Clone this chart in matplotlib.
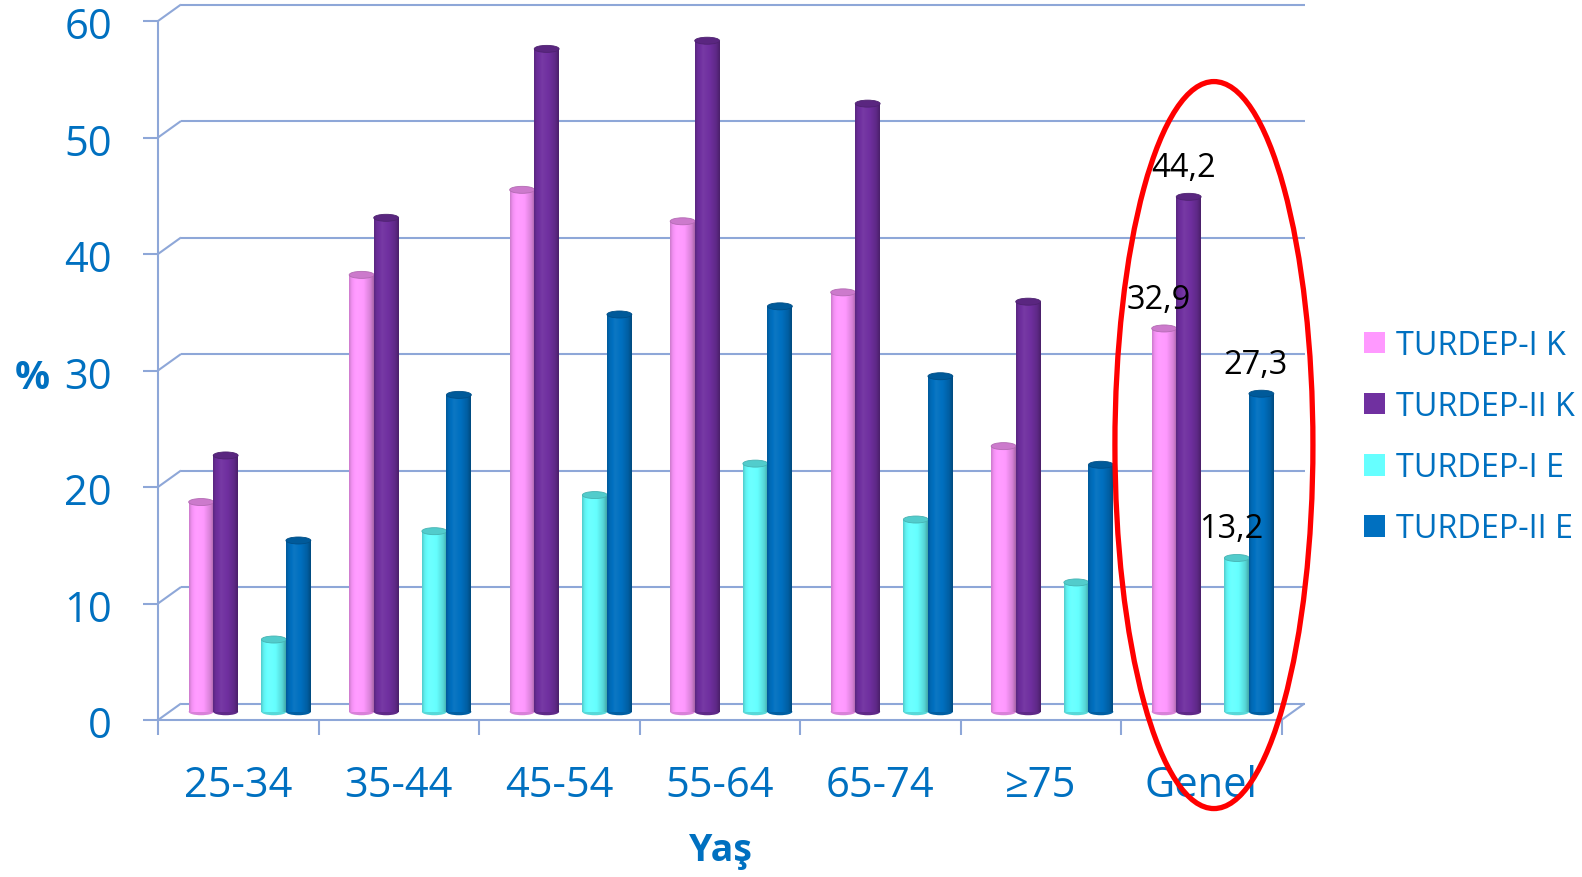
import numpy as np
import matplotlib
matplotlib.use("Agg")
import matplotlib.pyplot as plt
from matplotlib.patches import Ellipse, Patch
from matplotlib.transforms import ScaledTranslation
from matplotlib.colors import to_rgb

# ---- data ---------------------------------------------------------------
categories = ["25-34", "35-44", "45-54", "55-64", "65-74", "≥75", "Genel"]
series_names = ["TURDEP-I K", "TURDEP-II K", "TURDEP-I E", "TURDEP-II E"]
turdep1_k = [18.0, 37.5, 44.8, 42.1, 36.0, 22.8, 32.9]
turdep2_k = [22.0, 42.4, 56.9, 57.6, 52.2, 35.2, 44.2]
turdep1_e = [6.2, 15.5, 18.6, 21.3, 16.5, 11.1, 13.2]
turdep2_e = [14.7, 27.2, 34.1, 34.8, 28.8, 21.2, 27.3]
y_ticks = [0, 10, 20, 30, 40, 50, 60]
highlight_group = "Genel"

series_values = [turdep1_k, turdep2_k, turdep1_e, turdep2_e]
series_colors = ["#FF99FF", "#7030A0", "#66FFFF", "#0070C0"]

# ---- styling ------------------------------------------------------------
plt.rcParams["font.family"] = ["Open Sans", "DejaVu Sans"]
TXT = "#0070C0"
FRAME = "#8EA7D8"
FRAME_LW = 1.5

W, H, DPI = 1582, 878, 100
fig = plt.figure(figsize=(W / DPI, H / DPI), dpi=DPI)
fig.patch.set_facecolor("white")

ax_left, ax_bottom, ax_w, ax_h = 158, 157, 1123.5, 699
ax = fig.add_axes([ax_left / W, ax_bottom / H, ax_w / W, ax_h / H])
ncat = len(categories)
ax.set_xlim(0, ncat)
ax.set_ylim(0, 60)
ax.axis("off")

px_x = ax_w / ncat          # pixels per category
px_y = ax_h / 60.0          # pixels per percent

# depth of the pseudo-3D box (back wall shift), in pixels
depth_px = (23.0, 16.5)
ddx, ddy = depth_px[0] / px_x, depth_px[1] / px_y

# bars stand half-way into the box
mid_tr = ax.transData + ScaledTranslation(depth_px[0] / 2 / DPI,
                                          depth_px[1] / 2 / DPI,
                                          fig.dpi_scale_trans)

line_kw = dict(color=FRAME, lw=FRAME_LW, clip_on=False, zorder=1,
               solid_capstyle="butt")

# back wall gridlines + connectors to the front axis
for t in y_ticks:
    ax.plot([ddx, ncat + ddx], [t + ddy, t + ddy], **line_kw)
    ax.plot([0, ddx], [t, t + ddy], **line_kw)
    ax.plot([-15 / px_x, 0], [t, t], **line_kw)
# front vertical axis
ax.plot([0, 0], [0, 60], **line_kw)
# floor front edge, right edge and category ticks
ax.plot([0, ncat], [0, 0], **line_kw)
ax.plot([ncat, ncat + ddx], [0, ddy], **line_kw)
for i in range(ncat + 1):
    ax.plot([i, i], [0, -15 / px_y], **line_kw)


# ---- cylinders ----------------------------------------------------------
def shade(rgb, f):
    rgb = np.asarray(rgb)
    if f >= 1:
        return rgb + (1 - rgb) * (f - 1)
    return rgb * f


def cylinder_gradient(color, n=64):
    base = to_rgb(color)
    pos = [0.0, 0.10, 0.32, 0.60, 0.86, 1.0]
    fac = [0.80, 0.94, 1.05, 0.99, 0.84, 0.66]
    xs = np.linspace(0, 1, n)
    f = np.interp(xs, pos, fac)
    return np.array([[shade(base, v) for v in f]])


offsets = [-0.303, -0.150, 0.150, 0.303]
bar_w = 0.155
cap_h = 7.0 / px_y

centers = np.arange(ncat) + 0.5
for s, (vals, col) in enumerate(zip(series_values, series_colors)):
    xs = centers + offsets[s]
    z = 3 + s * 0.1
    bars = ax.bar(xs, vals, width=bar_w, color=col, transform=mid_tr,
                  zorder=z, linewidth=0)
    grad = cylinder_gradient(col)
    for rect, x, v in zip(bars, xs, vals):
        rect.set_clip_on(False)
        im = ax.imshow(grad, extent=(x - bar_w / 2, x + bar_w / 2, 0, v),
                       transform=mid_tr, aspect="auto",
                       interpolation="bilinear", zorder=z + 0.01)
        im.set_clip_path(rect)
        bottom = Ellipse((x, 0), bar_w, cap_h, transform=mid_tr,
                         facecolor=shade(to_rgb(col), 0.85),
                         edgecolor="none", zorder=z - 0.01, clip_on=False)
        ax.add_patch(bottom)
        top = Ellipse((x, v), bar_w, cap_h, transform=mid_tr,
                      facecolor=shade(to_rgb(col), 0.80),
                      edgecolor=shade(to_rgb(col), 0.70), lw=0.6,
                      zorder=z + 0.02, clip_on=False)
        ax.add_patch(top)

ax.set_xlim(0, ncat)
ax.set_ylim(0, 60)

# ---- value labels for the highlighted group -----------------------------
g = categories.index(highlight_group)
for s, vals in enumerate(series_values):
    v = vals[g]
    ax.annotate(f"{v:.1f}".replace(".", ","), xy=(centers[g] + offsets[s], v),
                xycoords=mid_tr, xytext=(-4.0, 21), textcoords="offset points",
                ha="center", va="center", fontsize=23.5, color="black",
                zorder=8)

# red ellipse around the highlighted group
ax.add_patch(Ellipse((g + 0.579, 23.6), 198 / px_x, 727 / px_y,
                     fill=False, edgecolor="#FF0000", lw=3.8,
                     clip_on=False, zorder=9))

# ---- axis texts ---------------------------------------------------------
for t in y_ticks:
    ax.annotate(str(t), xy=(0, t), xytext=(-33.1, -12.5),
                textcoords="offset points", ha="right", va="baseline",
                fontsize=30, color=TXT, annotation_clip=False)
ax.annotate("%", xy=(0, 30), xytext=(-77.8, -12.5), textcoords="offset points",
            ha="right", va="baseline", fontsize=28, fontweight="bold",
            color=TXT, annotation_clip=False)

for c, lab in zip(centers, categories):
    ax.annotate(lab, xy=(c, 0), xytext=(0, -54.7), textcoords="offset points",
                ha="center", va="baseline", fontsize=30, color=TXT,
                annotation_clip=False)
ax.annotate("Yaş", xy=(ncat / 2, 0), xytext=(0.5, -100.5),
            textcoords="offset points", ha="center", va="baseline",
            fontsize=27, fontweight="bold", color=TXT, annotation_clip=False)

# ---- legend -------------------------------------------------------------
handles = [Patch(facecolor=c, edgecolor="none") for c in series_colors]
fig.legend(handles, series_names, loc="center left",
           bbox_to_anchor=(1364 / W, 1 - 438 / H), frameon=False,
           fontsize=23.3, labelcolor=TXT, handlelength=0.65,
           handleheight=0.65, handletextpad=0.35, labelspacing=0.87,
           borderpad=0, borderaxespad=0)

fig.savefig("out.png", dpi=DPI, facecolor="white")
